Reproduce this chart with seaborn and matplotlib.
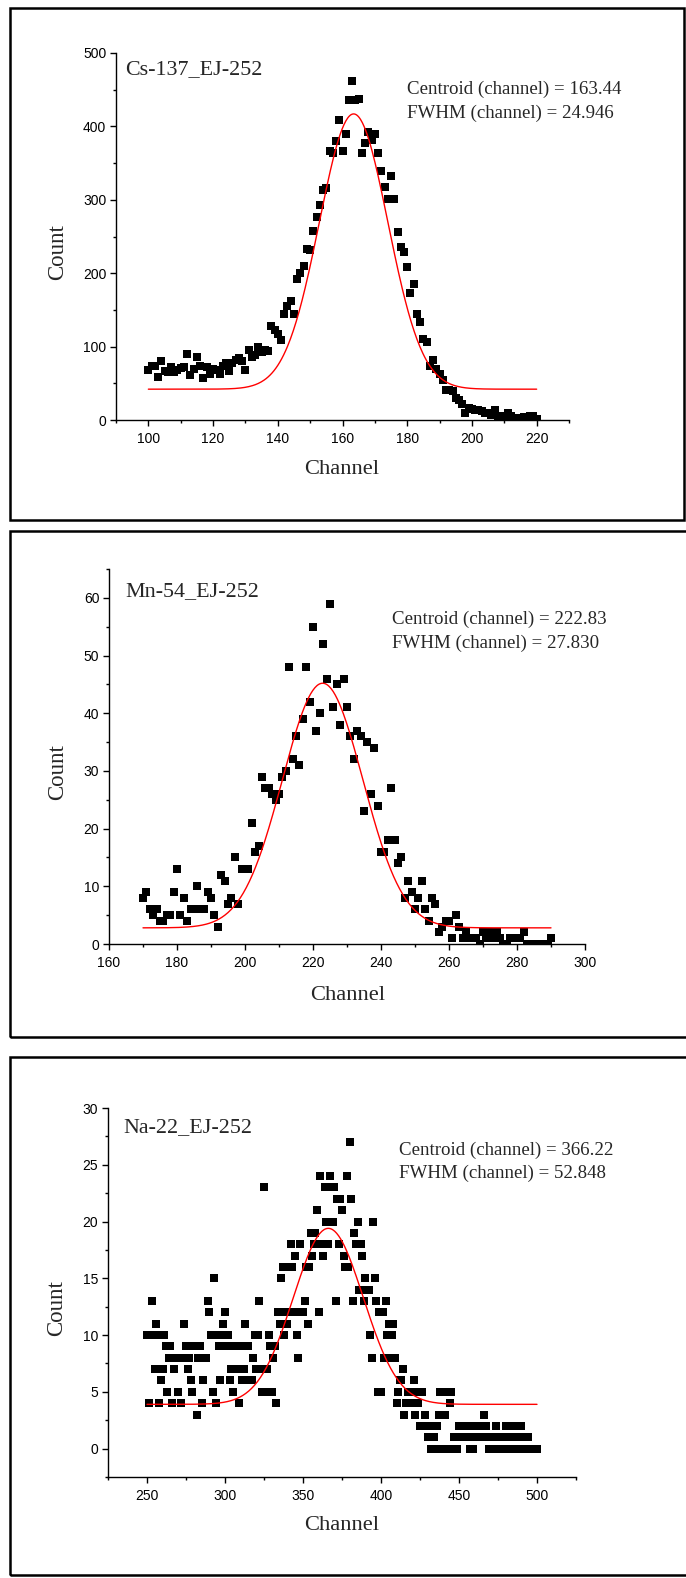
import numpy as np
import pandas as pd
import matplotlib
matplotlib.use("Agg")
import matplotlib.pyplot as plt
from matplotlib.patches import Rectangle
from matplotlib.ticker import MultipleLocator
import seaborn as sns

# ---------------- data ----------------
cs_channels = list(range(100, 221))
cs_counts = [68, 73, 74, 58, 80, 67, 65, 72, 66, 68,
             71, 72, 90, 61, 70, 86, 74, 57, 72, 63,
             70, 68, 63, 74, 77, 67, 78, 82, 84, 80,
             68, 95, 86, 88, 99, 92, 96, 94, 128, 122,
             117, 109, 145, 155, 162, 145, 192, 200, 210, 233,
             231, 258, 276, 293, 314, 316, 367, 364, 380, 409,
             367, 390, 436, 462, 436, 438, 364, 377, 392, 382,
             389, 364, 339, 317, 301, 333, 301, 256, 236, 229,
             209, 173, 185, 145, 133, 110, 106, 74, 82, 70,
             62, 55, 41, 41, 40, 30, 27, 22, 9, 17,
             15, 14, 13, 12, 9, 10, 7, 14, 6, 5,
             4, 9, 5, 2, 3, 3, 4, 4, 5, 6,
             2]
cs_centroid = 163.44
cs_fwhm = 24.946
cs_base = 42.0
cs_amp = 375.0

mn_channels = list(range(170, 291))
mn_counts = [8, 9, 6, 5, 6, 4, 4, 5, 5, 9,
             13, 5, 8, 4, 6, 6, 10, 6, 6, 9,
             8, 5, 3, 12, 11, 7, 8, 15, 7, 13,
             13, 13, 21, 16, 17, 29, 27, 27, 26, 25,
             26, 29, 30, 48, 32, 36, 31, 39, 48, 42,
             55, 37, 40, 52, 46, 59, 41, 45, 38, 46,
             41, 36, 32, 37, 36, 23, 35, 26, 34, 24,
             16, 16, 18, 27, 18, 14, 15, 8, 11, 9,
             6, 8, 11, 6, 4, 8, 7, 2, 3, 4,
             4, 1, 5, 3, 1, 2, 1, 1, 1, 0,
             2, 1, 2, 1, 2, 1, 0, 0, 1, 1,
             1, 1, 2, 0, 0, 0, 0, 0, 0, 0,
             1]
mn_centroid = 222.83
mn_fwhm = 27.830
mn_base = 2.8
mn_amp = 42.4

na_channels = list(range(250, 501))
na_counts = [10, 4, 10, 13, 10, 7, 11, 10, 4, 6,
             7, 10, 9, 5, 8, 9, 4, 7, 8, 8,
             5, 8, 4, 8, 11, 9, 7, 8, 6, 5,
             9, 9, 3, 8, 9, 4, 6, 8, 8, 13,
             12, 10, 5, 15, 4, 10, 9, 6, 10, 11,
             12, 9, 10, 6, 7, 5, 9, 9, 7, 4,
             9, 6, 7, 11, 6, 9, 6, 6, 8, 10,
             7, 10, 13, 7, 5, 23, 5, 7, 10, 9,
             5, 8, 9, 4, 12, 11, 15, 16, 10, 12,
             11, 16, 18, 16, 12, 17, 10, 8, 18, 12,
             12, 13, 16, 11, 16, 19, 17, 18, 19, 21,
             12, 24, 18, 17, 23, 20, 18, 24, 23, 20,
             23, 13, 22, 18, 22, 21, 17, 16, 24, 16,
             27, 22, 13, 19, 18, 20, 14, 18, 17, 13,
             15, 14, 14, 10, 8, 20, 15, 13, 5, 12,
             5, 12, 8, 13, 10, 11, 8, 10, 11, 8,
             4, 5, 6, 6, 7, 3, 4, 5, 5, 4,
             4, 6, 3, 5, 4, 2, 5, 2, 3, 2,
             1, 2, 0, 1, 1, 0, 2, 3, 5, 0,
             3, 3, 5, 0, 4, 5, 0, 1, 1, 0,
             2, 1, 2, 2, 1, 1, 1, 0, 2, 0,
             2, 1, 1, 2, 1, 1, 3, 2, 1, 0,
             1, 0, 1, 0, 2, 1, 0, 0, 1, 0,
             2, 1, 2, 0, 1, 2, 1, 0, 0, 1,
             2, 0, 1, 0, 1, 0, 0, 0, 0, 0,
             0]
na_centroid = 366.22
na_fwhm = 52.848
na_base = 3.9
na_amp = 15.5

titles = ["Cs-137_EJ-252", "Mn-54_EJ-252", "Na-22_EJ-252"]

# ---------------- style ----------------
sns.set_theme(style="ticks")
plt.rcParams['font.family'] = ['Liberation Sans', 'DejaVu Sans']
SERIF = ['Liberation Serif', 'DejaVu Serif']

W, H = 686, 1578
fig = plt.figure(figsize=(W / 100, H / 100), dpi=100)
fig.patch.set_facecolor("white")


def fx(x):
    return x / W


def fy(y):
    return 1 - y / H


def gauss_fit(xs, base, amp, xc, fwhm):
    sigma = fwhm / (2 * np.sqrt(2 * np.log(2)))
    return base + amp * np.exp(-0.5 * ((xs - xc) / sigma) ** 2)


panels = [
    dict(ch=cs_channels, ct=cs_counts, xc=cs_centroid, fw=cs_fwhm, b=cs_base, a=cs_amp,
         box=(10, 8, 684, 520), ax=(116, 53, 569, 420),
         xlim=(90, 230), ylim=(0, 500), xmaj=20, xmin=10, ymaj=100, ymin=50,
         title_xy=(125, 70), ann_xy=(407, 89, 113), ylab=(58, 252), xlab=(342, 469),
         cent="163.44", fwtxt="24.946"),
    dict(ch=mn_channels, ct=mn_counts, xc=mn_centroid, fw=mn_fwhm, b=mn_base, a=mn_amp,
         box=(10, 531, 700, 1037), ax=(109, 569, 585, 944),
         xlim=(160, 300), ylim=(0, 65), xmaj=20, xmin=10, ymaj=10, ymin=5,
         title_xy=(125, 592), ann_xy=(392, 619, 643), ylab=(58, 772), xlab=(348, 995),
         cent="222.83", fwtxt="27.830"),
    dict(ch=na_channels, ct=na_counts, xc=na_centroid, fw=na_fwhm, b=na_base, a=na_amp,
         box=(10, 1057, 700, 1575), ax=(108, 1108, 576, 1477),
         xlim=(225, 525), ylim=(-2.5, 30), xmaj=50, xmin=25, ymaj=5, ymin=2.5,
         title_xy=(123, 1128), ann_xy=(399, 1150, 1173), ylab=(57, 1308), xlab=(342, 1526),
         cent="366.22", fwtxt="52.848"),
]

for i, p in enumerate(panels):
    x0, y0, x1, y1 = p["box"]
    fig.patches.append(Rectangle((fx(x0), fy(y1)), (x1 - x0) / W, (y1 - y0) / H,
                                 transform=fig.transFigure, fill=False,
                                 edgecolor="black", linewidth=1.8, zorder=0))
    l, t, r, b = p["ax"]
    ax = fig.add_axes([fx(l), fy(b), (r - l) / W, (b - t) / H])
    ax.set_facecolor("none")
    df = pd.DataFrame({"Channel": p["ch"], "Count": p["ct"]})
    sns.scatterplot(data=df, x="Channel", y="Count", ax=ax, marker="s", s=32,
                    color="black", linewidth=0, zorder=3, legend=False)
    xs = np.linspace(p["ch"][0], p["ch"][-1], 400)
    fit = pd.DataFrame({"Channel": xs, "Fit": gauss_fit(xs, p["b"], p["a"], p["xc"], p["fw"])})
    sns.lineplot(data=fit, x="Channel", y="Fit", ax=ax, color="red", linewidth=1.0, zorder=4)

    ax.set_xlim(*p["xlim"])
    ax.set_ylim(*p["ylim"])
    ax.xaxis.set_major_locator(MultipleLocator(p["xmaj"]))
    ax.xaxis.set_minor_locator(MultipleLocator(p["xmin"]))
    ax.yaxis.set_major_locator(MultipleLocator(p["ymaj"]))
    ax.yaxis.set_minor_locator(MultipleLocator(p["ymin"]))
    if i == 2:
        ax.set_xticks([250, 300, 350, 400, 450, 500])
    ax.tick_params(which="major", direction="out", length=4.5, width=1.0, labelsize=10,
                   color="black", labelcolor="black", pad=2.5)
    ax.tick_params(axis="x", which="major", pad=4)
    ax.tick_params(which="minor", direction="out", length=2.5, width=1.0, color="black")
    for s in ["top", "right"]:
        ax.spines[s].set_visible(False)
    for s in ["left", "bottom"]:
        ax.spines[s].set_color("black")
        ax.spines[s].set_linewidth(1.0)
    ax.set_xlabel("")
    ax.set_ylabel("")

    tx, ty = p["title_xy"]
    fig.text(fx(tx), fy(ty), titles[i], family=SERIF, fontsize=15.8, va="center", ha="left")
    ax_, ay1, ay2 = p["ann_xy"]
    fig.text(fx(ax_), fy(ay1), "Centroid (channel) = " + p["cent"], family=SERIF,
             fontsize=13.6, va="center", ha="left")
    fig.text(fx(ax_), fy(ay2), "FWHM (channel) = " + p["fwtxt"], family=SERIF,
             fontsize=13.6, va="center", ha="left")
    lx, ly = p["ylab"]
    fig.text(fx(lx), fy(ly), "Count", family=SERIF, fontsize=16.5, rotation=90,
             va="center", ha="center")
    cx, cy = p["xlab"]
    fig.text(fx(cx), fy(cy), "Channel", family=SERIF, fontsize=16.2, va="center", ha="center")

fig.savefig("out.png", dpi=100, facecolor="white")
